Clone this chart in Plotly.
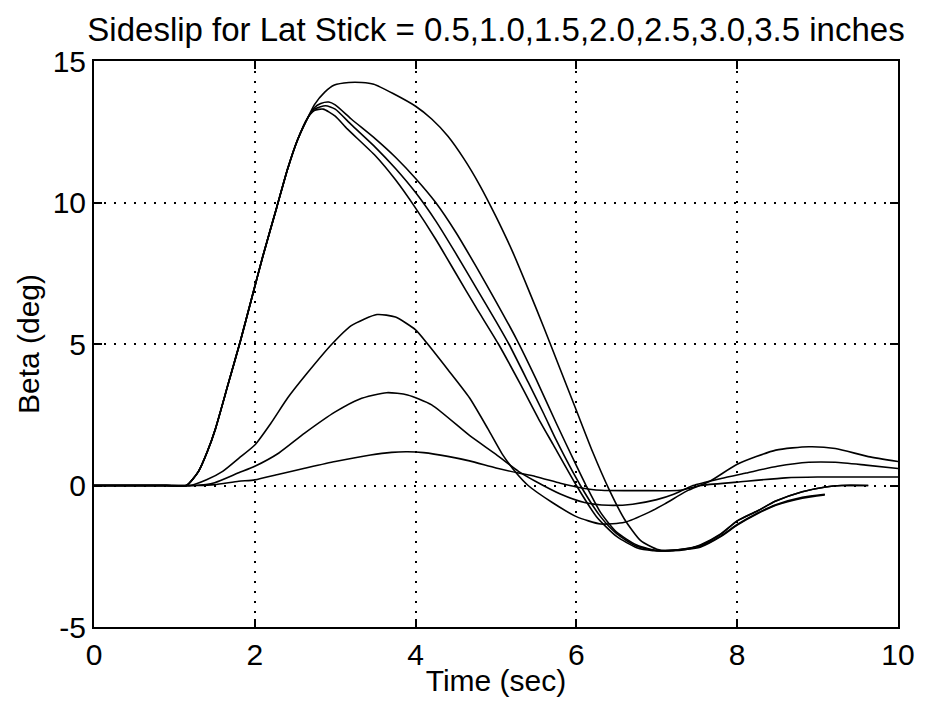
import plotly.graph_objects as go

# ---- data (time in s, beta in deg) ----
# the four large lateral-stick responses share the same initial rise
rise_t = [0.0, 0.5, 0.9, 1.15, 1.30, 1.41, 1.51, 1.67, 1.82, 1.96, 2.10, 2.27, 2.41, 2.53, 2.66]
rise_b = [0.0, 0.0, 0.0, 0.0, 0.5, 1.2, 2.0, 3.6, 5.1, 6.6, 8.1, 9.8, 11.2, 12.2, 13.0]

t_top = [2.74, 2.87, 2.99, 3.17, 3.33, 3.48, 3.72, 4.0, 4.2, 4.4, 4.6, 4.8, 5.0, 5.2, 5.4, 5.6,
         5.8, 6.0, 6.2, 6.4, 6.6, 6.8, 7.0, 7.15, 7.35, 7.54, 7.8, 8.0, 8.25, 8.48, 8.81, 9.1,
         9.3, 9.63]
b_top = [13.45, 13.9, 14.15, 14.24, 14.24, 14.18, 13.85, 13.4, 12.95, 12.35, 11.55, 10.6, 9.5, 8.3,
         6.95, 5.55, 4.1, 2.65, 1.2, -0.1, -1.2, -1.95, -2.25, -2.3, -2.27, -2.1, -1.7, -1.25, -0.9,
         -0.55, -0.22, -0.05, 0.0, 0.0]

t_a = [2.74, 2.82, 2.92, 3.0, 3.2, 3.5, 3.75, 4.0, 4.25, 4.5, 4.75, 5.0, 5.25, 5.5, 5.75, 6.0,
       6.12, 6.3, 6.5, 6.75, 7.0, 7.2, 7.54, 7.8, 8.0, 8.25, 8.48, 8.81, 9.1, 9.3, 9.63]
b_a = [13.35, 13.5, 13.55, 13.45, 12.95, 12.25, 11.6, 10.85, 10.0, 8.95, 7.75, 6.5, 5.2, 3.75, 2.2,
       0.7, 0.0, -0.95, -1.65, -2.1, -2.3, -2.3, -2.12, -1.72, -1.25, -0.9, -0.55, -0.22, -0.05,
       0.0, 0.0]

t_b = [2.74, 2.88, 3.0, 3.2, 3.5, 3.75, 4.0, 4.25, 4.5, 4.75, 5.0, 5.16, 5.4, 5.6, 5.75, 6.05,
       6.3, 6.5, 6.75, 7.0, 7.15, 7.54, 7.8, 8.0, 8.25, 8.48, 8.81, 9.09]
b_b = [13.3, 13.42, 13.3, 12.75, 11.95, 11.2, 10.35, 9.35, 8.2, 7.0, 5.8, 5.0, 3.65, 2.5, 1.6, 0.0,
       -1.1, -1.7, -2.15, -2.3, -2.3, -2.15, -1.78, -1.38, -0.98, -0.68, -0.42, -0.31]

t_c = [2.74, 2.85, 3.0, 3.15, 3.5, 3.75, 4.0, 4.25, 4.5, 4.75, 5.03, 5.3, 5.55, 5.71, 6.0, 6.25,
       6.5, 6.75, 6.95, 7.1, 7.54, 7.8, 8.0, 8.25, 8.48, 8.81, 9.09]
b_c = [13.25, 13.3, 13.05, 12.6, 11.65, 10.8, 9.8, 8.7, 7.5, 6.3, 5.0, 3.6, 2.25, 1.45, 0.0, -1.1,
       -1.8, -2.2, -2.3, -2.3, -2.18, -1.8, -1.4, -1.0, -0.7, -0.45, -0.33]

# the three small lateral-stick responses
t_15 = [0.0, 0.5, 0.9, 1.2, 1.4, 1.6, 1.8, 2.0, 2.2, 2.41, 2.66, 2.96, 3.2, 3.52, 3.75, 4.0, 4.15,
        4.4, 4.67, 4.9, 5.08, 5.25, 5.4, 5.7, 6.0, 6.3, 6.6, 6.9, 7.1, 7.37, 7.66, 8.0, 8.48, 8.89,
        9.22, 9.63, 10.0]
b_15 = [0.0, 0.0, 0.0, 0.0, 0.2, 0.5, 0.96, 1.43, 2.2, 3.1, 4.0, 5.0, 5.65, 6.04, 5.95, 5.5, 5.0,
        4.1, 3.1, 2.0, 1.1, 0.45, 0.0, -0.6, -1.1, -1.36, -1.3, -0.95, -0.65, -0.2, 0.15, 0.75,
        1.25, 1.37, 1.31, 1.02, 0.85]

t_10 = [0.0, 0.5, 0.9, 1.25, 1.5, 1.8, 2.0, 2.3, 2.62, 3.0, 3.3, 3.64, 3.9, 4.2, 4.67, 5.0, 5.28,
        5.49, 5.8, 6.1, 6.4, 6.7, 7.0, 7.21, 7.45, 7.8, 8.11, 8.5, 8.89, 9.22, 9.6, 10.0]
b_10 = [0.0, 0.0, 0.0, 0.0, 0.1, 0.45, 0.68, 1.15, 1.85, 2.6, 3.05, 3.28, 3.2, 2.85, 1.77, 1.1, 0.5,
        0.15, -0.3, -0.6, -0.7, -0.66, -0.5, -0.31, 0.0, 0.25, 0.44, 0.68, 0.82, 0.82, 0.72, 0.6]

t_05 = [0.0, 0.5, 0.9, 1.3, 1.5, 1.8, 2.0, 2.3, 2.62, 3.0, 3.44, 3.7, 3.9, 4.1, 4.4, 4.67, 5.0,
        5.28, 5.49, 5.8, 6.0, 6.31, 6.8, 7.29, 7.54, 8.0, 8.6, 9.0, 9.5, 10.0]
b_05 = [0.0, 0.0, 0.0, 0.0, 0.03, 0.15, 0.2, 0.4, 0.61, 0.85, 1.08, 1.17, 1.19, 1.16, 1.03, 0.87,
        0.62, 0.44, 0.32, 0.08, -0.05, -0.17, -0.18, -0.17, 0.0, 0.12, 0.27, 0.3, 0.3, 0.3]

x_ticks = [0, 2, 4, 6, 8, 10]
y_ticks = [-5, 0, 5, 10, 15]

series = [
    (rise_t + t_top, rise_b + b_top),
    (rise_t + t_a, rise_b + b_a),
    (rise_t + t_b, rise_b + b_b),
    (rise_t + t_c, rise_b + b_c),
    (t_15, b_15),
    (t_10, b_10),
    (t_05, b_05),
]

FONT = "Liberation Sans, Arial, sans-serif"

fig = go.Figure()
for tx, by in series:
    fig.add_trace(go.Scatter(x=tx, y=by, mode="lines",
                             line=dict(color="black", width=1.6, shape="spline", smoothing=0.6),
                             showlegend=False, hoverinfo="skip"))

axis_common = dict(
    showline=True, linecolor="black", linewidth=2, mirror="ticks",
    ticks="inside", ticklen=8, tickwidth=2, tickcolor="black",
    showgrid=True, gridcolor="black", gridwidth=2, griddash="2px,8px",
    zeroline=False, tickfont=dict(family=FONT, size=30, color="black"),
)

fig.update_layout(
    width=927, height=704,
    margin=dict(l=94, r=20, t=61, b=68),
    paper_bgcolor="white", plot_bgcolor="white",
    title=dict(text="Sideslip for Lat Stick = 0.5,1.0,1.5,2.0,2.5,3.0,3.5 inches",
               font=dict(family=FONT, size=33, color="black"),
               x=0.5, xref="paper", y=1 - 29 / 704, yref="container", yanchor="middle"),
    xaxis=dict(range=[0, 10], tickvals=x_ticks, ticktext=[str(v) for v in x_ticks],
               title=dict(text="Time (sec)", font=dict(family=FONT, size=30, color="black"), standoff=0),
               **axis_common),
    yaxis=dict(range=[-5, 15], tickvals=y_ticks, ticktext=[str(v) for v in y_ticks],
               title=dict(text="Beta (deg)", font=dict(family=FONT, size=30, color="black"), standoff=4),
               **axis_common),
)

fig.write_html("out.html")
